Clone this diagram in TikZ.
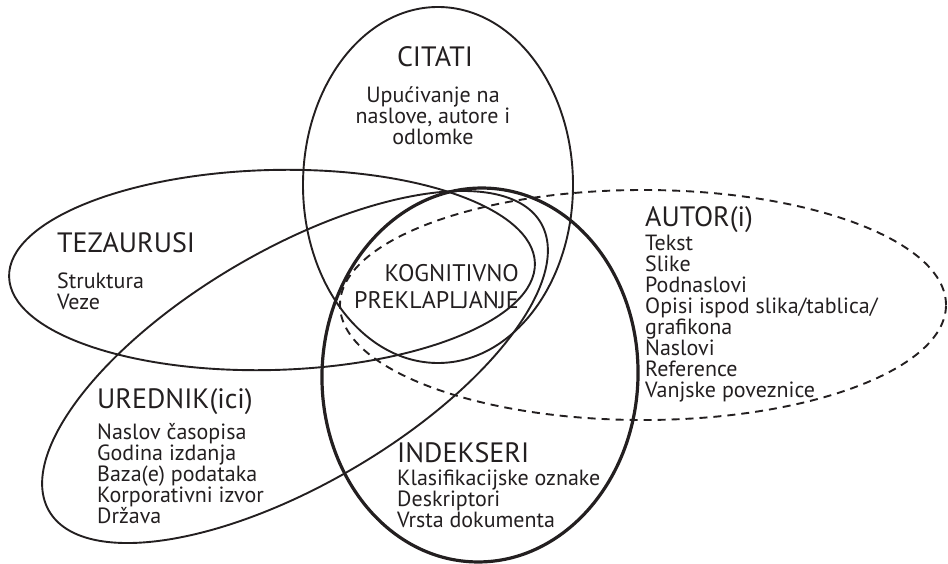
\documentclass[tikz,border=0pt]{standalone}
\usepackage{fontspec}
\setmainfont{PT Sans}
\usepackage{xcolor}
\usetikzlibrary{shapes.geometric, positioning}

\definecolor{ink}{HTML}{231F20}

\begin{document}
\begin{tikzpicture}[
            x=1pt, y=-1pt,                      % coordinates in pixels of the page
            set/.style={
                ellipse,
                draw=ink,
                line width=1.9pt,
                inner sep=0pt
            },
            heading/.style={
                font=\fontsize{28}{30}\selectfont,
                text=ink,
                inner sep=0pt,
                anchor=base west
            },
            items/.style={
                font=\fontsize{22}{21}\selectfont,
                text=ink,
                inner sep=0pt,
                align=left,
                anchor=base west                % base = baseline of the last line
            }
        ]
            \useasboundingbox (0,0) rectangle (948,564);

            % --- SKUPOVI ---
            \node [set, minimum width=526pt, minimum height=200pt, rotate=1.5] (tezaurusi) at (272,270) {};
            \node [set, minimum width=570pt, minimum height=234pt, rotate=30.4] (urednik) at (295,367) {};
            \node [set, minimum width=270pt, minimum height=356pt] (citati) at (438,185) {};
            \node [set, dash pattern=on 8pt off 6pt, minimum width=606pt, minimum height=230pt] (autor) at (643,305) {};
            \node [set, line width=3.2pt, minimum width=316pt, minimum height=374pt, rotate=-2] (indekseri) at (480,375) {};

            % --- TEKSTOVI ---
            \node [heading, anchor=base] (citati-head) at (435,67) {CITATI};
            \node [items, align=center, anchor=base] (citati-items) at (433,145) {
                Upućivanje na \\ naslove, autore i \\ odlomke
            };

            \node [heading] (tezaurusi-head) at (57,253) {TEZAURUSI};
            \node [items] (tezaurusi-items) at (57,309) {Struktura \\ Veze};

            \node [heading] (urednik-head) at (97,408) {UREDNIK(ici)};
            \node [items] (urednik-items) at (97,523) {
                Naslov časopisa \\ Godina izdanja \\ Baza(e) podataka \\ Korporativni izvor \\ Država
            };

            \node [heading] (indekseri-head) at (397,462) {INDEKSERI};
            \node [items] (indekseri-items) at (397,527) {
                Klasifikacijske oznake \\ Deskriptori \\ Vrsta dokumenta
            };

            \node [heading] (autor-head) at (645,227) {AUTOR(i)};
            \node [items] (autor-items) at (645,397) {
                Tekst \\ Slike \\ Podnaslovi \\ Opisi ispod slika/tablica/ \\ grafikona \\ Naslovi \\ Reference \\ Vanjske poveznice
            };

            \node [items, font=\fontsize{24}{27}\selectfont, align=right, anchor=base east] (preklapanje) at (519,308) {
                KOGNITIVNO \\ PREKLAPLJANJE
            };
        \end{tikzpicture}
\end{document}
